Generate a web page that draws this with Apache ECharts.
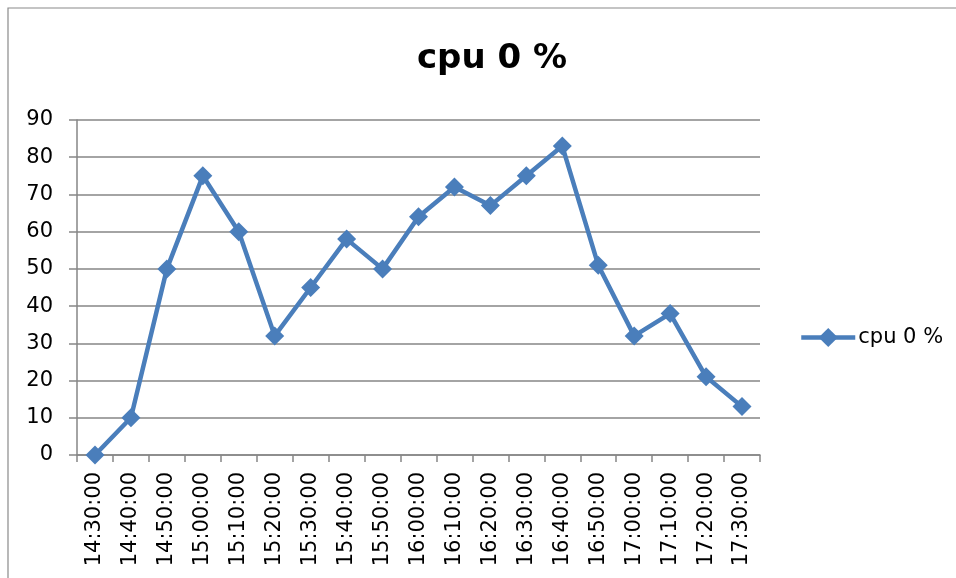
<!DOCTYPE html>
<html>
<head>
<meta charset="utf-8">
<script src="https://cdn.jsdelivr.net/npm/echarts@6/dist/echarts.min.js"></script>
<style>
  html, body { margin: 0; padding: 0; background: #ffffff; }
  #chart { width: 956px; height: 578px; }
</style>
</head>
<body>
<div id="chart"></div>
<script>
// Sample times (x axis categories)
const times = [
  '14:30:00', '14:40:00', '14:50:00', '15:00:00', '15:10:00', '15:20:00',
  '15:30:00', '15:40:00', '15:50:00', '16:00:00', '16:10:00', '16:20:00',
  '16:30:00', '16:40:00', '16:50:00', '17:00:00', '17:10:00', '17:20:00',
  '17:30:00'
];

// CPU 0 utilisation, percent
const cpu0 = [0, 10, 50, 75, 60, 32, 45, 58, 50, 64, 72, 67, 75, 83, 51, 32, 38, 21, 13];

const seriesName = 'cpu 0 %';
const yMin = 0, yMax = 90, yStep = 10;

const blue = '#4a7ebb';
const gray = '#868686';
const font = '"DejaVu Sans", sans-serif';

const chart = echarts.init(document.getElementById('chart'));
chart.setOption({
  animation: false,
  backgroundColor: '#ffffff',
  graphic: [{
    type: 'rect',
    shape: { x: 8, y: 8, width: 1200, height: 1200 },
    style: { fill: 'none', stroke: '#8a8a8a', lineWidth: 1.2 },
    silent: true
  }],
  title: {
    text: seriesName,
    left: 487,
    top: 37,
    textAlign: 'center',
    textStyle: { fontFamily: font, fontWeight: 'bold', fontSize: 34, color: '#000' }
  },
  legend: {
    data: [seriesName],
    left: 799,
    top: 327,
    padding: 0,
    itemWidth: 54,
    itemHeight: 24,
    itemGap: 0,
    lineStyle: { width: 4.5, color: blue },
    itemStyle: { color: blue, borderWidth: 0 },
    textStyle: { fontFamily: font, fontSize: 21, color: '#000', padding: [0, 0, 0, -2] }
  },
  grid: { left: 77, top: 120, right: 196, bottom: 123, containLabel: false },
  xAxis: {
    type: 'category',
    data: times,
    boundaryGap: true,
    axisLine: { lineStyle: { color: gray, width: 1.5 } },
    axisTick: { show: true, length: 7, alignWithLabel: false, lineStyle: { color: gray, width: 1.5 } },
    axisLabel: {
      rotate: 90, interval: 0, margin: 17,
      fontFamily: font, fontSize: 21, color: '#000'
    },
    splitLine: { show: false }
  },
  yAxis: {
    type: 'value',
    min: yMin, max: yMax, interval: yStep,
    axisLine: { show: true, lineStyle: { color: gray, width: 1.5 } },
    axisTick: { show: true, length: 8, lineStyle: { color: gray, width: 1.5 } },
    axisLabel: { margin: 24, fontFamily: font, fontSize: 21, color: '#000' },
    splitLine: { show: true, lineStyle: { color: gray, width: 1.5 } }
  },
  series: [{
    name: seriesName,
    type: 'line',
    data: cpu0,
    symbol: 'diamond',
    symbolSize: 19,
    showAllSymbol: true,
    lineStyle: { color: blue, width: 4.5 },
    itemStyle: { color: blue, borderWidth: 0 }
  }]
});
</script>
</body>
</html>
